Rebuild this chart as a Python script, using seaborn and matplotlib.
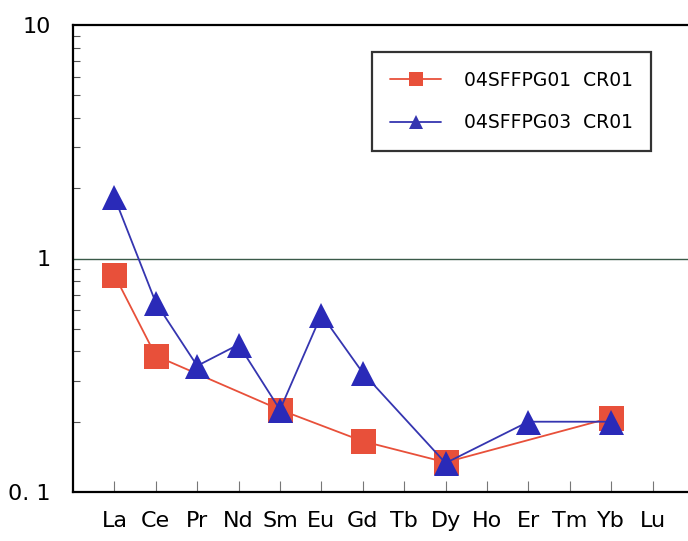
import numpy as np
import pandas as pd
import matplotlib
matplotlib.use('Agg')
import matplotlib.pyplot as plt
import seaborn as sns
from matplotlib.ticker import LogLocator, NullFormatter

# REE pattern values (None = not analysed)
elements = ['La', 'Ce', 'Pr', 'Nd', 'Sm', 'Eu', 'Gd', 'Tb', 'Dy', 'Ho', 'Er', 'Tm', 'Yb', 'Lu']
sample1 = [0.85, 0.383, None, None, 0.225, None, 0.165, None, 0.134, None, None, None, 0.208, None]
sample2 = [1.83, 0.647, 0.347, 0.428, 0.225, 0.575, 0.324, None, 0.133, None, 0.20, None, 0.20, None]
names = ['04SFFPG01  CR01', '04SFFPG03  CR01']

rows = []
for name, vals in zip(names, [sample1, sample2]):
    for i, v in enumerate(vals):
        if v is not None:
            rows.append({'pos': i + 1, 'value': v, 'sample': name})
df = pd.DataFrame(rows)

sns.set_style('white')
plt.rcParams['font.family'] = ['DejaVu Sans']
plt.rcParams['text.color'] = 'black'
plt.rcParams['xtick.labelcolor'] = 'black'
plt.rcParams['ytick.labelcolor'] = 'black'

fig = plt.figure(figsize=(6.88, 5.41), dpi=100)
ax = fig.add_axes([73 / 688, 1 - 492 / 541, 621 / 688, 467 / 541])

ax.axhline(1, color='#3a5a48', lw=1.0, zorder=1)

sns.lineplot(data=df, x='pos', y='value', hue='sample', style='sample',
             palette=['#e8503a', '#3535b0'], markers=['s', '^'], dashes=False,
             markersize=18, markeredgewidth=0, linewidth=1.3, ax=ax, zorder=3)
ax.lines[-1].set_markersize(21)
for ln, c in zip(ax.lines[1:], ['#e8503a', '#2a2ab8']):
    ln.set_markerfacecolor(c)

ax.set_yscale('log')
ax.set_ylim(0.1, 10)
ax.set_xlim(0, 15)
ax.set_yticks([0.1, 1, 10])
ax.set_yticklabels(['0. 1', '1', '10'])
ax.yaxis.set_minor_locator(LogLocator(base=10, subs=np.arange(2, 10)))
ax.yaxis.set_minor_formatter(NullFormatter())
ax.set_xticks(range(1, len(elements) + 1))
ax.set_xticklabels(elements)
ax.set_xlabel('')
ax.set_ylabel('')

ax.tick_params(axis='y', which='major', direction='in', length=0, labelsize=16, pad=16)
ax.tick_params(axis='y', which='minor', direction='in', length=5, width=0.8, color='#555555', left=True)
ax.tick_params(axis='x', direction='in', length=8, width=0.8, color='#777777', labelsize=16, pad=14, bottom=True)

for s in ax.spines.values():
    s.set_color('black')
    s.set_linewidth(1.6)

leg = ax.legend(loc='upper left', bbox_to_anchor=(0.481, 0.942), borderaxespad=0,
                fontsize=13.5, frameon=True, fancybox=False, edgecolor='black',
                borderpad=1.0, handlelength=2.7, handletextpad=1.2, labelspacing=1.25)
leg.get_frame().set_linewidth(1.6)
for h in leg.legend_handles:
    h.set_markersize(10)

fig.savefig('out.png', dpi=100)
